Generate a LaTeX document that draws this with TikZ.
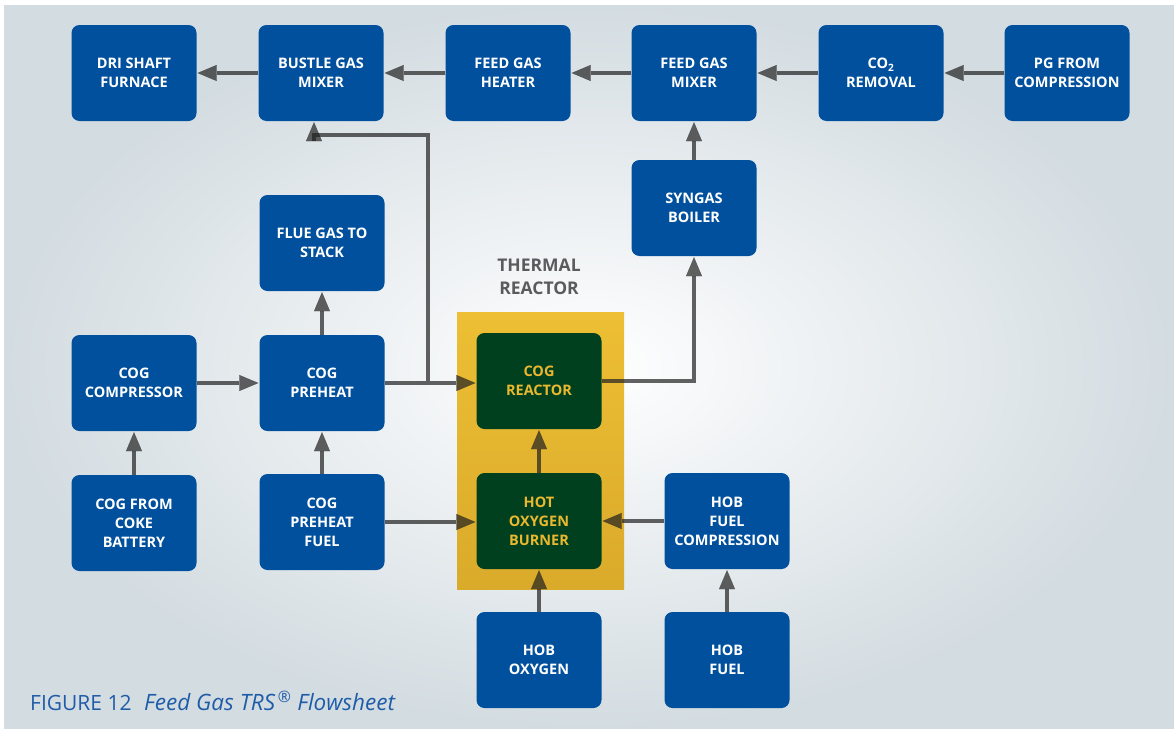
\documentclass[tikz,border=0pt]{standalone}
\usepackage{fontspec}
\setmainfont{Open Sans}
\usetikzlibrary{arrows.meta}
\definecolor{boxblue}{HTML}{00509E}
\definecolor{reactgreen}{HTML}{00401F}
\definecolor{reactgold}{HTML}{EDBF34}
\definecolor{reactgolddark}{HTML}{DAAA2A}
\definecolor{goldtext}{HTML}{EAB82E}
\definecolor{linegray}{HTML}{202020}
\definecolor{labelgray}{HTML}{5A5B5D}
\definecolor{bggray}{HTML}{D3DCE1}
\definecolor{captionblue}{HTML}{1F5CA8}
\begin{document}
\begin{tikzpicture}[x=1pt,y=1pt]
\tikzstyle{every node}+=[inner sep=0pt]
\tikzstyle{unit}=[draw=none, fill=boxblue, rounded corners=8pt, minimum width=125pt, minimum height=96pt, align=center, text=white, font=\fontsize{14.5}{19}\selectfont\bfseries]
\tikzstyle{hotunit}=[unit, fill=reactgreen, text=goldtext]
\tikzstyle{flow}=[draw=linegray, draw opacity=0.7, fill opacity=0.7, line width=3.5pt, shorten >=1pt, -{Triangle[length=19pt,width=16pt,line width=0.1pt]}]
\useasboundingbox (0,0) rectangle (1174,-728);
\fill[white] (0,0) rectangle (1174,-728);
\shade[inner color=white, outer color=bggray] (4,-5) rectangle (1174,-728);
\shade[top color=reactgold, bottom color=reactgolddark] (457,-312) rectangle (624,-589);
\node[font=\fontsize{17.5}{23}\selectfont\bfseries, text=labelgray, align=center] (thermal) at (539,-277) {THERMAL\\REACTOR};
\node[unit] (dri) at (134,-73) {DRI SHAFT\\FURNACE};
\node[unit] (bustle) at (321,-73) {BUSTLE GAS\\MIXER};
\node[unit] (heater) at (508,-73) {FEED GAS\\HEATER};
\node[unit] (mixer) at (694,-73) {FEED GAS\\MIXER};
\node[unit] (coremoval) at (881,-73) {CO\textsubscript{2}\\REMOVAL};
\node[unit] (pg) at (1067,-73) {PG FROM\\COMPRESSION};
\node[unit] (syngas) at (694,-208) {SYNGAS\\BOILER};
\node[unit] (flue) at (322,-243) {FLUE GAS TO\\STACK};
\node[unit] (compressor) at (134,-383) {COG\\COMPRESSOR};
\node[unit] (preheat) at (322,-383) {COG\\PREHEAT};
\node[hotunit] (reactor) at (539,-381) {COG\\REACTOR};
\node[unit] (battery) at (134,-523) {COG FROM\\COKE\\BATTERY};
\node[unit] (fuel) at (322,-522) {COG\\PREHEAT\\FUEL};
\node[hotunit] (hob) at (539,-521) {HOT\\OXYGEN\\BURNER};
\node[unit] (hobcomp) at (727,-521) {HOB\\FUEL\\COMPRESSION};
\node[unit] (oxygen) at (539,-660) {HOB\\OXYGEN};
\node[unit] (hobfuel) at (727,-660) {HOB\\FUEL};
\coordinate (split) at (428,-381.25);
\coordinate (bendup) at (428,-135);
\coordinate (bendleft) at (314,-135);
\draw[flow] (bustle) -- (dri);
\draw[flow] (heater) -- (bustle);
\draw[flow] (mixer) -- (heater);
\draw[flow] (coremoval) -- (mixer);
\draw[flow] (pg) -- (coremoval);
\draw[flow] (syngas) -- (mixer);
\draw[flow] (preheat.east) -- (preheat.east -| reactor.west);
\draw[flow] (split) -- (bendup) -- (bendleft) -- (bendleft |- bustle.south);
\draw[flow] (reactor.east) -| (syngas.south);
\draw[flow] (preheat) -- (flue);
\draw[flow] (compressor) -- (preheat);
\draw[flow] (battery) -- (compressor);
\draw[flow] (fuel) -- (preheat);
\draw[flow] (fuel.east) -- (fuel.east -| hob.west);
\draw[flow] (hobcomp) -- (hob);
\draw[flow] (hob) -- (reactor);
\draw[flow] (oxygen) -- (hob);
\draw[flow] (hobfuel) -- (hobcomp);
\node[anchor=base west, text=captionblue, font=\fontsize{21}{24}\selectfont] (caption) at (30,-710) {FIGURE 12\hspace{0.6em}{\fontsize{22.5}{24}\selectfont\itshape Feed Gas TRS\textsuperscript{\,®} Flowsheet}};
\end{tikzpicture}
\end{document}
